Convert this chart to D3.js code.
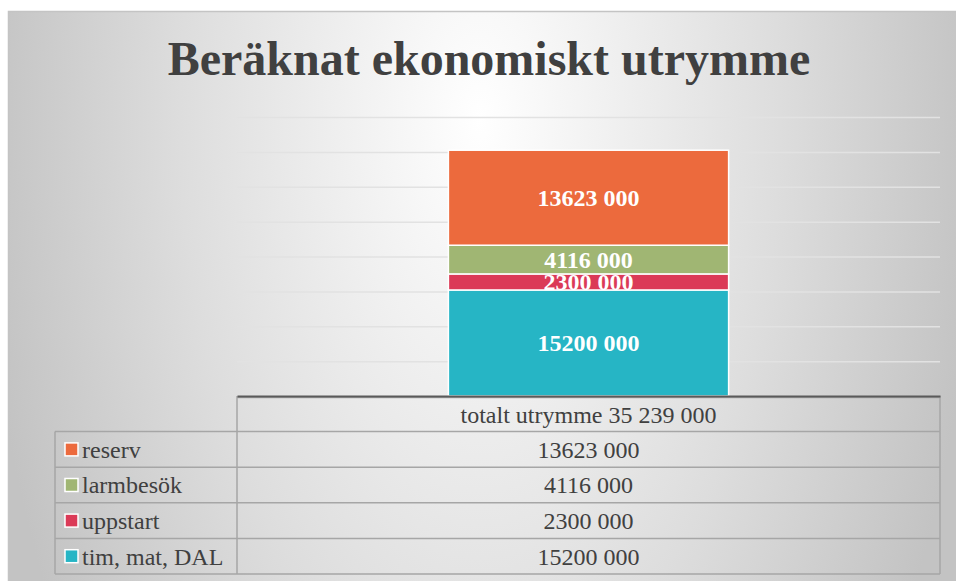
<!DOCTYPE html>
<html>
<head>
<meta charset="utf-8">
<script src="https://cdn.jsdelivr.net/npm/d3@7"></script>
<style>
  body { margin: 0; background: #fff; }
  svg { display: block; font-family: "Liberation Serif", "Times New Roman", serif; }
</style>
</head>
<body>
<div id="chart"></div>
<script>
const title = "Beräknat ekonomiskt utrymme";
const categories = ["totalt utrymme 35 239 000"];
// stacked bottom -> top
const seriesNames = ["tim, mat, DAL", "uppstart", "larmbesök", "reserv"];
const seriesValues = [15200000, 2300000, 4116000, 13623000];
const seriesLabels = ["15200 000", "2300 000", "4116 000", "13623 000"];
const seriesColors = ["#26b5c5", "#db3a57", "#a0b673", "#ec6a3d"];
const yTicks = [0, 5000000, 10000000, 15000000, 20000000, 25000000, 30000000, 35000000, 40000000];

const W = 956, H = 581;
const plot = { left: 237, right: 940, top: 117, bottom: 396 };
const rowH = 35.6;
const legendLeft = 55;

const svg = d3.select("#chart").append("svg")
  .attr("width", W).attr("height", H);

const defs = svg.append("defs");
const grad = defs.append("radialGradient")
  .attr("id", "bg")
  .attr("gradientUnits", "userSpaceOnUse")
  .attr("cx", 0).attr("cy", 0).attr("r", 1)
  .attr("gradientTransform", "translate(480,120) scale(500,950)");
grad.append("stop").attr("offset", 0).attr("stop-color", "#ffffff");
grad.append("stop").attr("offset", 0.25).attr("stop-color", "#f1f1f1");
grad.append("stop").attr("offset", 0.6).attr("stop-color", "#dddddd");
grad.append("stop").attr("offset", 1).attr("stop-color", "#c3c3c3");

// chart frame
svg.append("rect")
  .attr("x", 8.5).attr("y", 11.5)
  .attr("width", 980).attr("height", 620)
  .attr("fill", "url(#bg)")
  .attr("stroke", "#c4c4c4").attr("stroke-width", 1.5);

// title
svg.append("text")
  .attr("x", 489).attr("y", 75)
  .attr("text-anchor", "middle")
  .attr("font-size", 48).attr("font-weight", "bold")
  .attr("fill", "#404040")
  .text(title);

// scales
const x = d3.scaleBand()
  .domain(categories)
  .range([plot.left, plot.right])
  .padding(0.43);

const y = d3.scaleLinear()
  .domain([0, 40000000])
  .range([plot.bottom, plot.top]);

// gridlines
const grid = svg.append("g")
  .attr("transform", `translate(${plot.left},0)`)
  .call(d3.axisLeft(y).tickValues(yTicks).tickSize(-(plot.right - plot.left)).tickFormat(""));
grid.select(".domain").remove();
grid.selectAll(".tick line")
  .attr("stroke", "#e2e2e2").attr("stroke-width", 1.5)
  .attr("stroke-opacity", (d) => (d === 0 ? 0 : 1));

// stacked segments
let acc = 0;
const segments = seriesValues.map((v, i) => {
  const s = { name: seriesNames[i], label: seriesLabels[i], color: seriesColors[i], y0: acc, y1: acc + v };
  acc += v;
  return s;
});

const bars = svg.append("g");
segments.forEach((s, i) => {
  defs.append("clipPath").attr("id", "clip" + i)
    .append("rect")
    .attr("x", x(categories[0]))
    .attr("y", y(s.y1))
    .attr("width", x.bandwidth())
    .attr("height", y(s.y0) - y(s.y1));
});

bars.selectAll("rect")
  .data(segments)
  .enter()
  .append("rect")
  .attr("x", x(categories[0]))
  .attr("y", (d) => y(d.y1))
  .attr("width", x.bandwidth())
  .attr("height", (d) => y(d.y0) - y(d.y1))
  .attr("fill", (d) => d.color)
  .attr("stroke", "#fff")
  .attr("stroke-width", 1.5);

bars.selectAll("text")
  .data(segments)
  .enter()
  .append("text")
  .attr("clip-path", (d, i) => `url(#clip${i})`)
  .attr("x", x(categories[0]) + x.bandwidth() / 2)
  .attr("y", (d) => (y(d.y0) + y(d.y1)) / 2)
  .attr("dy", "0.35em")
  .attr("text-anchor", "middle")
  .attr("font-size", 24).attr("font-weight", "bold")
  .attr("fill", "#fff")
  .text((d) => d.label);

// data table
const table = svg.append("g");
const lineColor = "#a6a6a6";
const tableRows = segments.slice().reverse();
const tableBottom = plot.bottom + rowH * (tableRows.length + 1);

// horizontal lines
table.append("line")
  .attr("x1", plot.left).attr("x2", plot.right)
  .attr("y1", plot.bottom + 1.5).attr("y2", plot.bottom + 1.5)
  .attr("stroke", lineColor).attr("stroke-width", 1.5);
d3.range(1, tableRows.length + 2).forEach((k) => {
  table.append("line")
    .attr("x1", legendLeft).attr("x2", plot.right)
    .attr("y1", plot.bottom + rowH * k).attr("y2", plot.bottom + rowH * k)
    .attr("stroke", lineColor).attr("stroke-width", 1.5);
});
// vertical lines
[[plot.left, plot.bottom], [plot.right, plot.bottom], [legendLeft, plot.bottom + rowH]].forEach(([lx, ly]) => {
  table.append("line")
    .attr("x1", lx).attr("x2", lx)
    .attr("y1", ly).attr("y2", tableBottom)
    .attr("stroke", lineColor).attr("stroke-width", 1.5);
});

// x axis line (domain)
const xAxis = svg.append("g")
  .attr("transform", `translate(0,${plot.bottom})`)
  .call(d3.axisBottom(x).tickSize(0).tickFormat(""));
xAxis.select(".domain").attr("stroke", "#5a5a5a").attr("stroke-width", 2);

// header cell
table.append("text")
  .attr("x", x(categories[0]) + x.bandwidth() / 2)
  .attr("y", plot.bottom + rowH / 2 + 1)
  .attr("dy", "0.35em")
  .attr("text-anchor", "middle")
  .attr("font-size", 24)
  .attr("fill", "#404040")
  .text(categories[0]);

const rows = table.selectAll(".row")
  .data(tableRows)
  .enter()
  .append("g")
  .attr("class", "row")
  .attr("transform", (d, i) => `translate(0,${plot.bottom + rowH * (i + 1) + rowH / 2})`);

rows.append("rect")
  .attr("x", 65).attr("y", -6.5)
  .attr("width", 13).attr("height", 13)
  .attr("fill", (d) => d.color)
  .attr("stroke", "#fff").attr("stroke-width", 1.5);

rows.append("text")
  .attr("x", 82)
  .attr("dy", "0.35em")
  .attr("font-size", 24)
  .attr("fill", "#404040")
  .text((d) => d.name);

rows.append("text")
  .attr("x", x(categories[0]) + x.bandwidth() / 2)
  .attr("dy", "0.35em")
  .attr("text-anchor", "middle")
  .attr("font-size", 24)
  .attr("fill", "#404040")
  .text((d) => d.label);
</script>
</body>
</html>
